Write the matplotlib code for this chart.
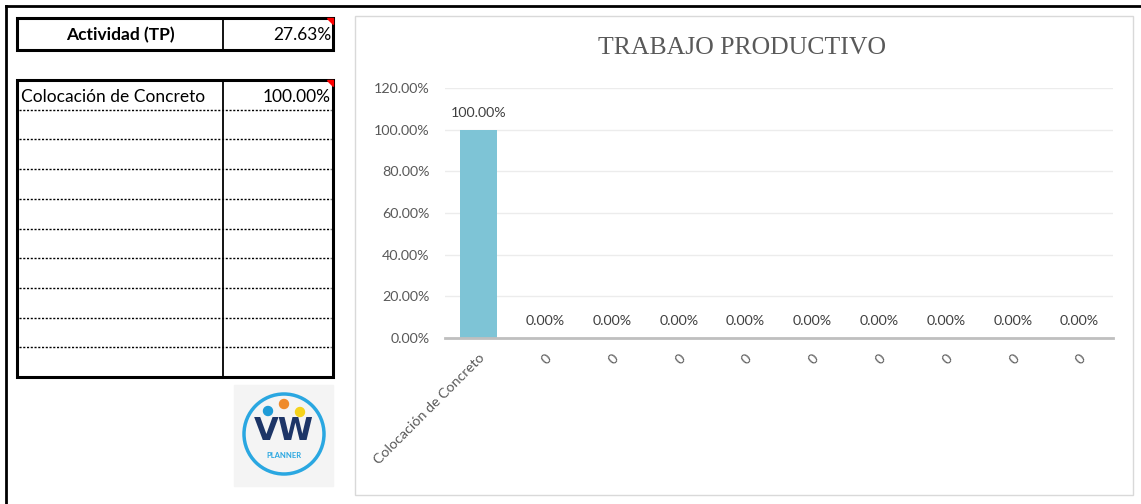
import matplotlib.pyplot as plt
import matplotlib.patches as patches
import numpy as np

# datos
actividad_label = "Actividad (TP)"
actividad_valor = "27.63%"
tabla_nombres = ["Colocación de Concreto", "", "", "", "", "", "", "", "", ""]
tabla_valores = ["100.00%", "", "", "", "", "", "", "", "", ""]
categorias = ["Colocación de Concreto", "0", "0", "0", "0", "0", "0", "0", "0", "0"]
valores = [1.0, 0, 0, 0, 0, 0, 0, 0, 0, 0]
yticks = [0, 0.2, 0.4, 0.6, 0.8, 1.0, 1.2]

W, H = 1141, 504
fig = plt.figure(figsize=(W/100, H/100), dpi=100)
plt.rcParams['font.family'] = ['Lato', 'DejaVu Sans']

# capa de fondo en pixeles
bg = fig.add_axes([0, 0, 1, 1])
bg.set_xlim(0, W)
bg.set_ylim(H, 0)
bg.axis('off')

# marco exterior
bg.plot([6, 6], [6, H], color='black', lw=2)
bg.plot([6, W], [6, 6], color='black', lw=2)

# tabla 1
bg.add_patch(patches.Rectangle((17, 18), 316, 32, fill=False, ec='black', lw=2.2))
bg.plot([223, 223], [18, 50], color='black', lw=1.3)
bg.text(120, 35, actividad_label, ha='center', va='center', fontsize=12.5, fontweight='bold')
bg.text(331, 35, actividad_valor, ha='right', va='center', fontsize=12.5)
bg.add_patch(patches.Polygon([[327, 18], [333, 18], [333, 24]], color='red'))

# tabla 2
top, rh = 80, 29.7
bg.add_patch(patches.Rectangle((17, top), 316, rh*10, fill=False, ec='black', lw=2.2))
bg.plot([223, 223], [top, top + rh*10], color='black', lw=1.3)
for i in range(1, 10):
    y = top + rh*i
    bg.plot([19, 331], [y, y], color='black', lw=1, linestyle=(0, (1.5, 1.2)))
for i in range(10):
    y = top + rh*i + rh/2 + 2
    if tabla_nombres[i]:
        bg.text(21, y, tabla_nombres[i], ha='left', va='center', fontsize=12.5)
    if tabla_valores[i]:
        bg.text(331, y, tabla_valores[i], ha='right', va='center', fontsize=12.5)
bg.add_patch(patches.Polygon([[327, top], [333, top], [333, top + 6]], color='red'))

# logo
bg.add_patch(patches.Rectangle((234, 385), 99, 101, color='#f4f4f4'))
bg.add_patch(patches.Circle((284, 434), 40, fill=False, ec='#2aa7e1', lw=2.5))
bg.add_patch(patches.Circle((268, 411), 4.5, color='#1e9bd7'))
bg.add_patch(patches.Circle((284, 404), 4.5, color='#ef8b2c'))
bg.add_patch(patches.Circle((300, 412), 4.5, color='#f5d31c'))
bg.text(284, 432, "VW", ha='center', va='center', fontsize=23, fontweight='bold', color='#1d3567',
        family='DejaVu Sans')
bg.text(284, 456, "PLANNER", ha='center', va='center', fontsize=5.5, fontweight='bold', color='#2aa7e1')

# caja del grafico
bg.add_patch(patches.Rectangle((355, 16), 778, 479, fill=True, fc='white', ec='#d9d9d9', lw=1))
bg.text(742, 48, "TRABAJO PRODUCTIVO", ha='center', va='center', fontsize=18.5,
        color='#595959', family='Liberation Serif')

# grafico de barras
ax = fig.add_axes([445/W, 1 - 338/H, 668/W, 250/H])
ax.patch.set_alpha(0)
x = np.arange(len(categorias))
ax.bar(x, valores, width=0.55, color='#7ec4d6')
ax.set_xlim(-0.5, len(categorias) - 0.5)
ax.set_ylim(0, 1.2)
ax.set_yticks(yticks)
ax.set_yticklabels(["%.2f%%" % (v*100) for v in yticks])
ax.yaxis.grid(True, color='#ececec', lw=1)
ax.set_axisbelow(True)
for s in ['top', 'right', 'left']:
    ax.spines[s].set_visible(False)
ax.spines['bottom'].set_color('#bfbfbf')
ax.spines['bottom'].set_linewidth(2)
ax.tick_params(axis='both', length=0, labelsize=10.3, colors='#595959')
ax.tick_params(axis='y', pad=11)
ax.set_xticks(x)
ax.set_xticklabels(categorias, rotation=45, ha='right', rotation_mode='anchor')
ax.tick_params(axis='x', pad=10)
for xi, v in zip(x, valores):
    ax.annotate("%.2f%%" % (v*100), (xi, v), xytext=(0, 8), textcoords='offset points',
                ha='center', va='bottom', fontsize=10.3, color='#404040')

fig.savefig('out.png', dpi=100)
